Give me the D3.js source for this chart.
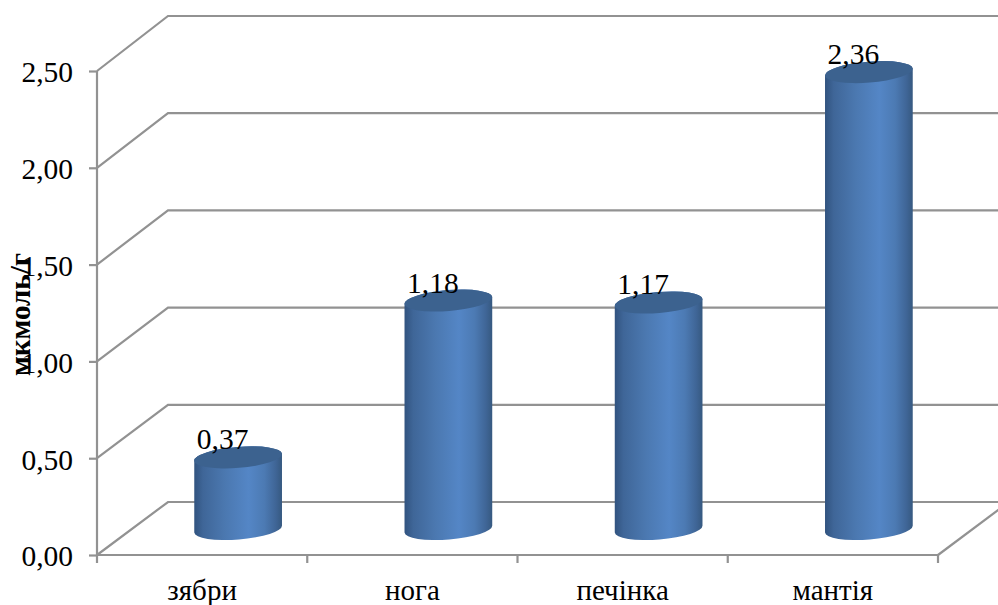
<!DOCTYPE html>
<html><head><meta charset="utf-8">
<script src="https://cdn.jsdelivr.net/npm/d3@7"></script>
<style>html,body{margin:0;padding:0;background:#fff}svg{display:block}text{font-family:"Liberation Serif","Times New Roman",serif;fill:#000}</style>
</head><body><svg id="c" width="998" height="605"></svg>
<script>
const categories = ["зябри","нога","печінка","мантія"];
const values = [0.37,1.18,1.17,2.36];
const valueLabels = ["0,37","1,18","1,17","2,36"];
const yTicks = [0,0.5,1,1.5,2,2.5];
const yTickLabels = ["0,00","0,50","1,00","1,50","2,00","2,50"];
const yTitle = "мкмоль/г";

const svg = d3.select("#c");
const x = d3.scaleBand().domain(categories).range([97,938]);
const y = d3.scaleLinear().domain([0,2.5]).range([555,71]);
const yBack = d3.scaleLinear().domain([0,2.5]).range([502,16]);
const depthX = 71, rx = 44, ry = 10.5, tilt = -4.6, baseShift = 26;
const gridCol = "#929292";

const defs = svg.append("defs");
const g1 = defs.append("linearGradient").attr("id","body");
[[0,"#31537f"],[0.1,"#3f6698"],[0.35,"#4b78b0"],[0.62,"#5486c6"],[0.8,"#4c7ab3"],[0.93,"#3f6596"],[1,"#365980"]]
  .forEach(([o,c])=>g1.append("stop").attr("offset",o).attr("stop-color",c));

const grid = svg.append("g").attr("fill","none").attr("stroke",gridCol).attr("stroke-width",2.2);
yTicks.forEach(t=>{
  grid.append("path").attr("d",d3.line()([[97,y(t)],[97+depthX,yBack(t)],[1000,yBack(t)]]));
});
grid.append("path").attr("d",d3.line()([[938,y(0)],[938+depthX,yBack(0)]]));

const axY = svg.append("g").attr("transform","translate(97,0)")
  .call(d3.axisLeft(y).tickValues(yTicks).tickSize(8).tickPadding(16).tickFormat((d,i)=>yTickLabels[i]));
axY.selectAll("line,path").attr("stroke",gridCol).attr("stroke-width",2.2);
axY.select(".domain").attr("d",`M0,${y(2.5)}V${y(0)}`);
axY.attr("font-family",null);
axY.selectAll("text").attr("font-size",29.5).attr("dy","0.37em").attr("fill","#000");

const axX = svg.append("g").attr("transform","translate(0,555)");
const edges = categories.map(c=>x(c)).concat([x.range()[1]]);
axX.append("path").attr("d",`M${x.range()[0]},0H${x.range()[1]}`).attr("stroke",gridCol).attr("stroke-width",2.2);
axX.selectAll("line").data(edges).join("line").attr("x1",d=>d).attr("x2",d=>d).attr("y1",0).attr("y2",8)
  .attr("stroke",gridCol).attr("stroke-width",2.2);
axX.selectAll("text").data(categories).join("text")
  .attr("x",c=>x(c)+x.bandwidth()/2).attr("y",44.5).attr("text-anchor","middle").attr("font-size",29).text(c=>c);

const a = tilt*Math.PI/180;
const ex = rx*Math.cos(a), ey = rx*Math.sin(a);
const bars = svg.append("g").selectAll("g").data(categories).join("g")
  .attr("transform",c=>`translate(${x(c)+x.bandwidth()/2+depthX/2+0.5},0)`);
const base = y(0)-baseShift;
const topY = (i)=>base-(y(0)-y(values[i]));
bars.append("path").attr("fill","url(#body)").attr("d",(c,i)=>{
  const t=topY(i);
  return `M${-ex},${t-ey}L${-ex},${base-ey}A${rx},${ry} ${tilt} 0 0 ${ex},${base+ey}L${ex},${t+ey}A${rx},${ry} ${tilt} 0 0 ${-ex},${t-ey}Z`;
});
bars.append("path").attr("fill","#3c628f").attr("d",(c,i)=>{
  const t=topY(i);
  return `M${-ex},${t-ey}A${rx},${ry} ${tilt} 1 1 ${ex},${t+ey}A${rx},${ry} ${tilt} 1 1 ${-ex},${t-ey}Z`;
});
bars.append("text").attr("x",-15.5).attr("y",(c,i)=>topY(i)-8)
  .attr("text-anchor","middle").attr("font-size",29.5).text((c,i)=>valueLabels[i]);

svg.append("text").attr("transform","translate(30,314.5) rotate(-90)")
  .attr("text-anchor","middle").attr("font-size",29).attr("font-weight","bold")
  .attr("textLength",123).attr("lengthAdjust","spacingAndGlyphs").text(yTitle);
</script></body></html>
